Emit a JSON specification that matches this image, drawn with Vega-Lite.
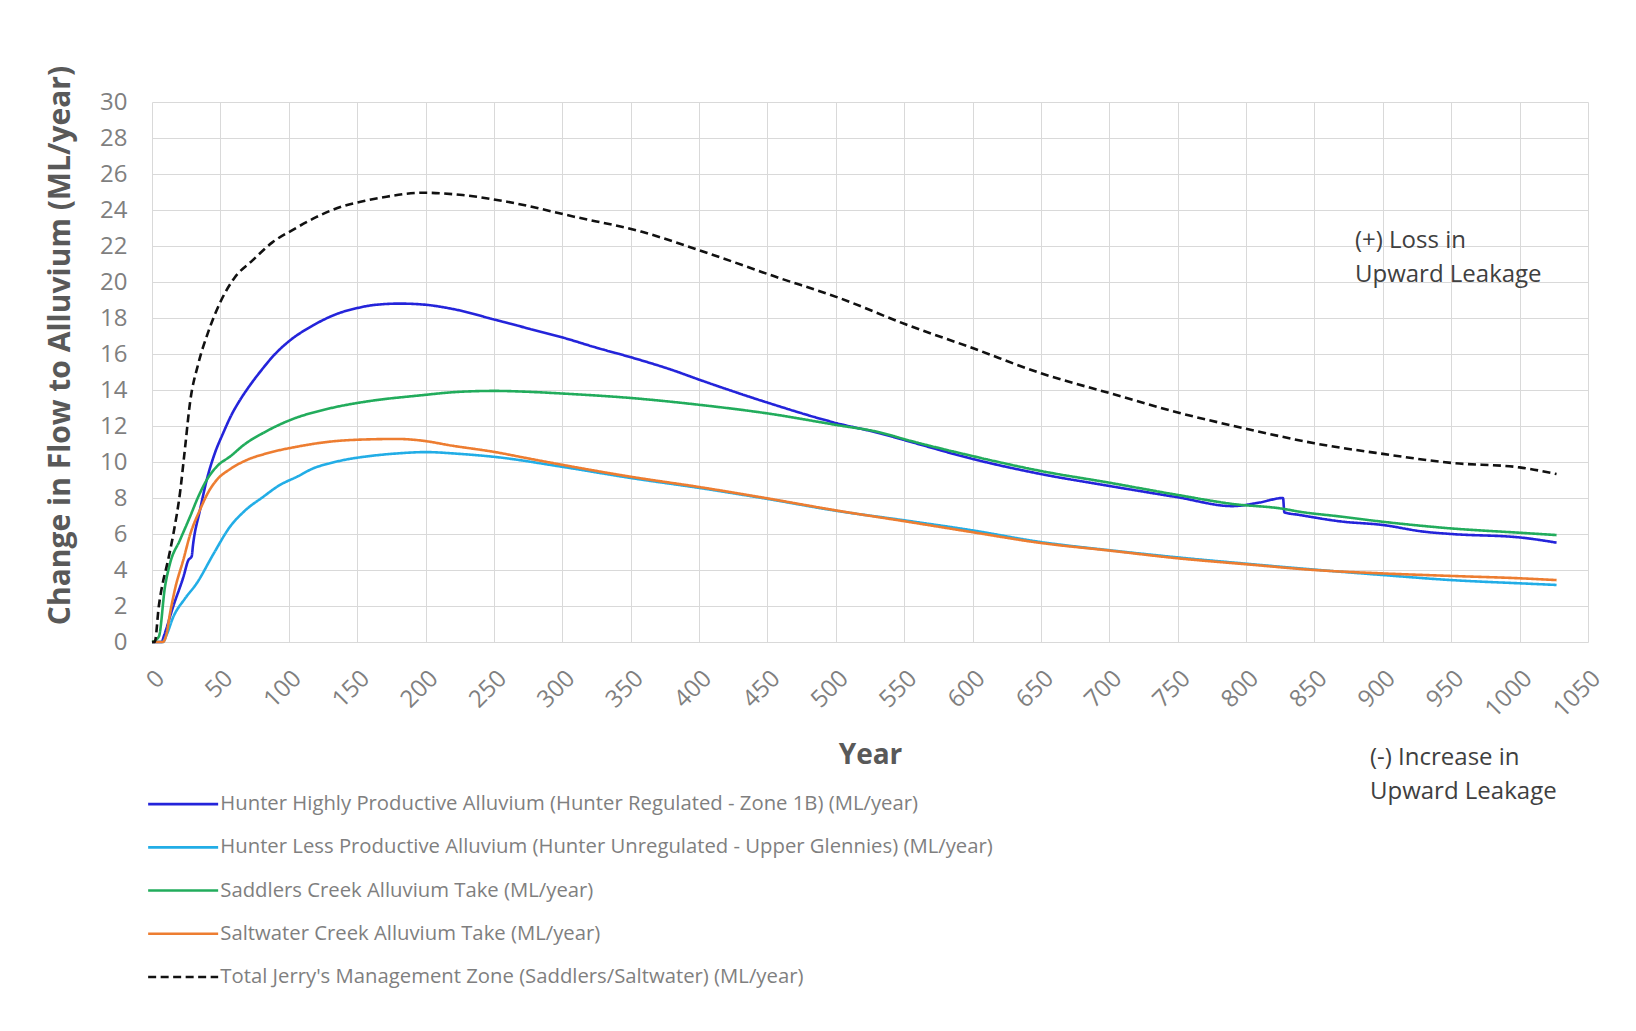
{
  "$schema": "https://vega.github.io/schema/vega-lite/v6.json",
  "width": 1436,
  "height": 540,
  "autosize": {"type": "none"},
  "padding": {"left": 152, "top": 102, "right": 48, "bottom": 389},
  "background": "white",
  "datasets": {
    "lines": [
      {"s":"A","year":0,"v":0},{"s":"A","year":7,"v":0},{"s":"A","year":9,"v":0.4},{"s":"A","year":15.6,"v":2.0},{"s":"A","year":22.9,"v":3.6},{"s":"A","year":26.6,"v":4.55},{"s":"A","year":29,"v":4.75},{"s":"A","year":30,"v":5.4},{"s":"A","year":35,"v":7.3},{"s":"A","year":40,"v":9.0},{"s":"A","year":46,"v":10.5},{"s":"A","year":52,"v":11.6},{"s":"A","year":58,"v":12.6},{"s":"A","year":64,"v":13.4},{"s":"A","year":72,"v":14.3},{"s":"A","year":80,"v":15.1},{"s":"A","year":90,"v":16.0},{"s":"A","year":100,"v":16.7},{"s":"A","year":118,"v":17.6},{"s":"A","year":136,"v":18.25},{"s":"A","year":150,"v":18.55},{"s":"A","year":162,"v":18.72},{"s":"A","year":181,"v":18.8},{"s":"A","year":198,"v":18.75},{"s":"A","year":220,"v":18.5},{"s":"A","year":251,"v":17.9},{"s":"A","year":276,"v":17.4},{"s":"A","year":301,"v":16.9},{"s":"A","year":325,"v":16.35},{"s":"A","year":351,"v":15.8},{"s":"A","year":380,"v":15.12},{"s":"A","year":401,"v":14.55},{"s":"A","year":450,"v":13.3},{"s":"A","year":501,"v":12.15},{"s":"A","year":532,"v":11.6},{"s":"A","year":551,"v":11.2},{"s":"A","year":600,"v":10.17},{"s":"A","year":650,"v":9.33},{"s":"A","year":700,"v":8.67},{"s":"A","year":750,"v":8.04},{"s":"A","year":790,"v":7.55},{"s":"A","year":810,"v":7.75},{"s":"A","year":827,"v":8.0},{"s":"A","year":828,"v":7.2},{"s":"A","year":839,"v":7.06},{"s":"A","year":869,"v":6.7},{"s":"A","year":900,"v":6.5},{"s":"A","year":930,"v":6.13},{"s":"A","year":950,"v":6.0},{"s":"A","year":1000,"v":5.81},{"s":"A","year":1027,"v":5.52},
      {"s":"B","year":0,"v":0},{"s":"B","year":8,"v":0},{"s":"B","year":10.7,"v":0.4},{"s":"B","year":15.6,"v":1.4},{"s":"B","year":24,"v":2.4},{"s":"B","year":32.7,"v":3.26},{"s":"B","year":45,"v":4.9},{"s":"B","year":57,"v":6.4},{"s":"B","year":68,"v":7.3},{"s":"B","year":81.4,"v":8.07},{"s":"B","year":93,"v":8.7},{"s":"B","year":106,"v":9.18},{"s":"B","year":118,"v":9.65},{"s":"B","year":130,"v":9.93},{"s":"B","year":143,"v":10.15},{"s":"B","year":156,"v":10.3},{"s":"B","year":180,"v":10.48},{"s":"B","year":200,"v":10.55},{"s":"B","year":225,"v":10.45},{"s":"B","year":251,"v":10.28},{"s":"B","year":301,"v":9.72},{"s":"B","year":351,"v":9.1},{"s":"B","year":401,"v":8.55},{"s":"B","year":450,"v":7.95},{"s":"B","year":501,"v":7.28},{"s":"B","year":551,"v":6.75},{"s":"B","year":600,"v":6.2},{"s":"B","year":650,"v":5.55},{"s":"B","year":700,"v":5.1},{"s":"B","year":750,"v":4.7},{"s":"B","year":800,"v":4.35},{"s":"B","year":839,"v":4.09},{"s":"B","year":900,"v":3.72},{"s":"B","year":950,"v":3.44},{"s":"B","year":1000,"v":3.26},{"s":"B","year":1027,"v":3.17},
      {"s":"C","year":0,"v":0},{"s":"C","year":5,"v":0.3},{"s":"C","year":9.5,"v":3.07},{"s":"C","year":13.2,"v":4.37},{"s":"C","year":20.5,"v":5.67},{"s":"C","year":27.8,"v":6.96},{"s":"C","year":34,"v":8.1},{"s":"C","year":40,"v":9.0},{"s":"C","year":48,"v":9.8},{"s":"C","year":57,"v":10.3},{"s":"C","year":68,"v":11.0},{"s":"C","year":81,"v":11.6},{"s":"C","year":100,"v":12.3},{"s":"C","year":130,"v":12.98},{"s":"C","year":156,"v":13.35},{"s":"C","year":196,"v":13.7},{"s":"C","year":225,"v":13.9},{"s":"C","year":251,"v":13.95},{"s":"C","year":275,"v":13.9},{"s":"C","year":301,"v":13.8},{"s":"C","year":351,"v":13.55},{"s":"C","year":401,"v":13.17},{"s":"C","year":450,"v":12.7},{"s":"C","year":501,"v":12.05},{"s":"C","year":532,"v":11.65},{"s":"C","year":551,"v":11.25},{"s":"C","year":600,"v":10.33},{"s":"C","year":650,"v":9.5},{"s":"C","year":700,"v":8.85},{"s":"C","year":750,"v":8.17},{"s":"C","year":790,"v":7.67},{"s":"C","year":827,"v":7.4},{"s":"C","year":839,"v":7.24},{"s":"C","year":869,"v":6.97},{"s":"C","year":900,"v":6.68},{"s":"C","year":950,"v":6.31},{"s":"C","year":1000,"v":6.07},{"s":"C","year":1027,"v":5.94},
      {"s":"D","year":0,"v":0},{"s":"D","year":8,"v":0},{"s":"D","year":10.7,"v":0.48},{"s":"D","year":13.2,"v":1.6},{"s":"D","year":17,"v":3.0},{"s":"D","year":22.9,"v":4.56},{"s":"D","year":28,"v":6.0},{"s":"D","year":35,"v":7.33},{"s":"D","year":41,"v":8.3},{"s":"D","year":47.3,"v":9.0},{"s":"D","year":57,"v":9.6},{"s":"D","year":69,"v":10.1},{"s":"D","year":85,"v":10.5},{"s":"D","year":106,"v":10.85},{"s":"D","year":130,"v":11.13},{"s":"D","year":155,"v":11.25},{"s":"D","year":180,"v":11.28},{"s":"D","year":196,"v":11.2},{"s":"D","year":220,"v":10.9},{"s":"D","year":251,"v":10.55},{"s":"D","year":275,"v":10.2},{"s":"D","year":301,"v":9.83},{"s":"D","year":351,"v":9.17},{"s":"D","year":401,"v":8.6},{"s":"D","year":450,"v":7.98},{"s":"D","year":501,"v":7.3},{"s":"D","year":551,"v":6.7},{"s":"D","year":600,"v":6.1},{"s":"D","year":650,"v":5.5},{"s":"D","year":700,"v":5.08},{"s":"D","year":750,"v":4.65},{"s":"D","year":800,"v":4.32},{"s":"D","year":850,"v":4.0},{"s":"D","year":900,"v":3.81},{"s":"D","year":950,"v":3.67},{"s":"D","year":1000,"v":3.54},{"s":"D","year":1027,"v":3.44},
      {"s":"E","year":0,"v":0},{"s":"E","year":2,"v":0},{"s":"E","year":5,"v":2.0},{"s":"E","year":8.3,"v":3.44},{"s":"E","year":10.7,"v":4.2},{"s":"E","year":15.6,"v":6.0},{"s":"E","year":20.5,"v":8.3},{"s":"E","year":24,"v":10.67},{"s":"E","year":27.8,"v":13.3},{"s":"E","year":34,"v":15.5},{"s":"E","year":41,"v":17.2},{"s":"E","year":50.7,"v":19.0},{"s":"E","year":60,"v":20.2},{"s":"E","year":73.5,"v":21.2},{"s":"E","year":88,"v":22.2},{"s":"E","year":103,"v":22.9},{"s":"E","year":120,"v":23.6},{"s":"E","year":139,"v":24.2},{"s":"E","year":155,"v":24.5},{"s":"E","year":171.5,"v":24.74},{"s":"E","year":199,"v":24.96},{"s":"E","year":227,"v":24.83},{"s":"E","year":259.6,"v":24.46},{"s":"E","year":308.6,"v":23.63},{"s":"E","year":357.6,"v":22.8},{"s":"E","year":406.6,"v":21.6},{"s":"E","year":455.6,"v":20.3},{"s":"E","year":503,"v":19.1},{"s":"E","year":551,"v":17.65},{"s":"E","year":600,"v":16.33},{"s":"E","year":650,"v":14.93},{"s":"E","year":700,"v":13.83},{"s":"E","year":750,"v":12.75},{"s":"E","year":800,"v":11.85},{"s":"E","year":850,"v":11.04},{"s":"E","year":900,"v":10.45},{"s":"E","year":950,"v":9.95},{"s":"E","year":1000,"v":9.7},{"s":"E","year":1027,"v":9.33}
    ],
    "notes": [
      {"x": 879.6, "y": 21.89, "t": "(+) Loss in"},
      {"x": 879.6, "y": 20.02, "t": "Upward Leakage"},
      {"x": 890.6, "y": -6.83, "t": "(-) Increase in"},
      {"x": 890.6, "y": -8.72, "t": "Upward Leakage"}
    ]
  },
  "layer": [
    {
      "data": {"name": "lines"},
      "mark": {"type": "line", "interpolate": "monotone"},
      "encoding": {
        "x": {
          "field": "year", "type": "quantitative", "title": "Year",
          "scale": {"domain": [0, 1050], "nice": false, "zero": false},
          "axis": {
            "title": "Year", "format": "d",
            "values": [0,50,100,150,200,250,300,350,400,450,500,550,600,650,700,750,800,850,900,950,1000,1050],
            "labelAngle": -45, "labelAlign": "right", "labelBaseline": "top", "labelPadding": 24, "labelDx": -3,
            "labelFlush": false, "labelOverlap": false, "labelBound": false,
            "titleX": 718, "titleY": 121, "titleBaseline": "alphabetic", "titleAlign": "center", "titleAnchor": null
          }
        },
        "y": {
          "field": "v", "type": "quantitative", "title": "Change in Flow to Alluvium (ML/year)",
          "scale": {"domain": [0, 30], "nice": false},
          "axis": {
            "title": "Change in Flow to Alluvium (ML/year)", "format": "d",
            "values": [0,2,4,6,8,10,12,14,16,18,20,22,24,26,28,30],
            "labelPadding": 25, "labelOverlap": false, "labelFlush": false,
            "titleX": -92, "titleY": 243, "titleAngle": -90, "titleBaseline": "middle", "titleAlign": "center", "titleAnchor": null
          }
        },
        "color": {
          "field": "s", "type": "nominal",
          "scale": {"domain": ["A","B","C","D","E"], "range": ["#2424DA","#22ADE6","#22AC5C","#ED7D31","#111111"]},
          "legend": {
            "orient": "none", "legendX": -4, "legendY": 692, "direction": "vertical", "title": null,
            "symbolType": "M-2,0H12", "symbolSize": 100,
            "labelFont": "Open Sans", "labelFontSize": 20.3, "labelColor": "#7f7f7f", "labelOffset": 52,
            "rowPadding": 22.2, "labelLimit": 1400, "padding": 0,
            "labelExpr": "{'A':'Hunter Highly Productive Alluvium (Hunter Regulated - Zone 1B) (ML/year)','B':'Hunter Less Productive Alluvium (Hunter Unregulated - Upper Glennies) (ML/year)','C':'Saddlers Creek Alluvium Take (ML/year)','D':'Saltwater Creek Alluvium Take (ML/year)','E':\"Total Jerry's Management Zone (Saddlers/Saltwater) (ML/year)\"}[datum.label]"
          }
        },
        "strokeDash": {
          "field": "s", "type": "nominal",
          "scale": {"domain": ["A","B","C","D","E"], "range": [[1,0],[1,0],[1,0],[1,0],[8,4.5]]}
        },
        "strokeWidth": {
          "field": "s", "type": "nominal",
          "scale": {"domain": ["A","B","C","D","E"], "range": [2.6,2.6,2.6,2.6,3.5]}
        }
      }
    },
    {
      "data": {"name": "notes"},
      "mark": {"type": "text", "align": "left", "baseline": "alphabetic", "font": "Open Sans", "fontSize": 24, "color": "#404040"},
      "encoding": {
        "x": {
          "field": "x", "type": "quantitative", "title": "Year",
          "axis": {
            "title": "Year", "format": "d",
            "values": [0,50,100,150,200,250,300,350,400,450,500,550,600,650,700,750,800,850,900,950,1000,1050],
            "labelAngle": -45, "labelAlign": "right", "labelBaseline": "top", "labelPadding": 24, "labelDx": -3,
            "labelFlush": false, "labelOverlap": false, "labelBound": false,
            "titleX": 718, "titleY": 121, "titleBaseline": "alphabetic", "titleAlign": "center", "titleAnchor": null
          }
        },
        "y": {
          "field": "y", "type": "quantitative", "title": "Change in Flow to Alluvium (ML/year)",
          "axis": {
            "title": "Change in Flow to Alluvium (ML/year)", "format": "d",
            "values": [0,2,4,6,8,10,12,14,16,18,20,22,24,26,28,30],
            "labelPadding": 25, "labelOverlap": false, "labelFlush": false,
            "titleX": -92, "titleY": 243, "titleAngle": -90, "titleBaseline": "middle", "titleAlign": "center", "titleAnchor": null
          }
        },
        "text": {"field": "t", "type": "nominal"}
      }
    }
  ],
  "config": {
    "font": "Open Sans",
    "view": {"stroke": null},
    "axis": {
      "grid": true, "gridColor": "#d9d9d9", "gridWidth": 1,
      "domain": false, "ticks": false, "tickSize": 0,
      "labelColor": "#7f7f7f", "labelFont": "Open Sans", "labelFontSize": 24,
      "titleColor": "#595959", "titleFont": "Open Sans", "titleFontWeight": "bold"
    },
    "axisX": {"titleFontSize": 28},
    "axisY": {"titleFontSize": 30}
  }
}
